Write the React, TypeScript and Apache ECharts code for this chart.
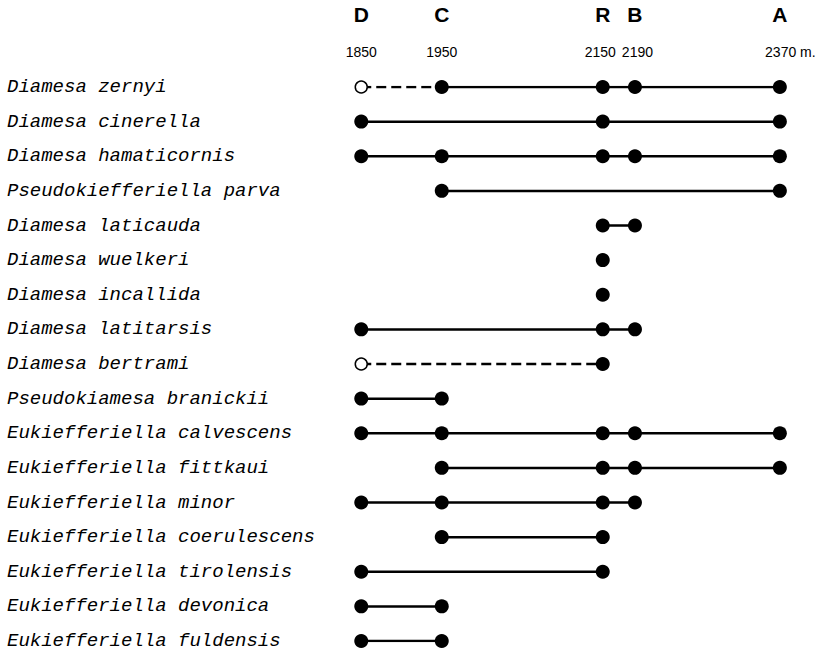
import React, { useEffect, useRef } from "react";
import * as echarts from "echarts";

const species = [
  "Diamesa zernyi",
  "Diamesa cinerella",
  "Diamesa hamaticornis",
  "Pseudokiefferiella parva",
  "Diamesa laticauda",
  "Diamesa wuelkeri",
  "Diamesa incallida",
  "Diamesa latitarsis",
  "Diamesa bertrami",
  "Pseudokiamesa branickii",
  "Eukiefferiella calvescens",
  "Eukiefferiella fittkaui",
  "Eukiefferiella minor",
  "Eukiefferiella coerulescens",
  "Eukiefferiella tirolensis",
  "Eukiefferiella devonica",
  "Eukiefferiella fuldensis",
];

const stationLetters = ["D", "C", "R", "B", "A"];
const stationAltitudes = [1850, 1950, 2150, 2190, 2370];

// filled (confirmed) records per species, altitudes in m
const filledRecords: number[][] = [
  [1950, 2150, 2190, 2370],
  [1850, 2150, 2370],
  [1850, 1950, 2150, 2190, 2370],
  [1950, 2370],
  [2150, 2190],
  [2150],
  [2150],
  [1850, 2150, 2190],
  [2150],
  [1850, 1950],
  [1850, 1950, 2150, 2190, 2370],
  [1950, 2150, 2190, 2370],
  [1850, 1950, 2150, 2190],
  [1950, 2150],
  [1850, 2150],
  [1850, 1950],
  [1850, 1950],
];

// open (uncertain) records per species, joined by a dashed line
const openRecords: number[][] = [
  [1850], [], [], [], [], [], [], [], [1850], [], [], [], [], [], [], [], [],
];

export default function App() {
  const ref = useRef<HTMLDivElement>(null);
  useEffect(() => {
    if (!ref.current) return;
    const chart = echarts.init(ref.current, null, { renderer: "svg" });

    const series: any[] = [];
    species.forEach((name, i) => {
      const open = openRecords[i];
      const filled = filledRecords[i];
      if (open.length) {
        series.push({
          type: "line",
          data: [...open.map((a) => [a, name]), [filled[0], name]],
          symbol: "none",
          lineStyle: { color: "#000", width: 2.6, type: [10, 5], opacity: 1 },
          z: 1,
        });
      }
      if (filled.length > 1) {
        series.push({
          type: "line",
          data: filled.map((a) => [a, name]),
          symbol: "none",
          lineStyle: { color: "#000", width: 2.5, opacity: 1 },
          z: 2,
        });
      }
    });
    series.push({
      type: "scatter",
      data: species.flatMap((name, i) => filledRecords[i].map((a) => [a, name])),
      symbol: "circle",
      symbolSize: 14,
      itemStyle: { color: "#000", opacity: 1 },
      z: 3,
    });
    series.push({
      type: "scatter",
      data: species.flatMap((name, i) => openRecords[i].map((a) => [a, name])),
      symbol: "circle",
      symbolSize: 12,
      itemStyle: { color: "#fff", borderColor: "#000", borderWidth: 1.5, opacity: 1 },
      z: 3,
    });

    const xBase = {
      type: "value",
      min: 1800,
      max: 2400,
      position: "top",
      axisLine: { show: false },
      axisTick: { show: false },
      splitLine: { show: false },
    };

    const last = stationAltitudes[stationAltitudes.length - 1];

    chart.setOption({
      animation: false,
      backgroundColor: "#fff",
      grid: { left: 321, right: 27, top: 87, bottom: 14 },
      xAxis: [
        {
          ...xBase,
          axisLabel: {
            customValues: stationAltitudes,
            margin: 73,
            verticalAlign: "middle",
            formatter: (v: number) => stationLetters[stationAltitudes.indexOf(v)] ?? "",
            fontFamily: "Liberation Sans",
            fontWeight: 900,
            fontSize: 21,
            color: "#000",
          },
        },
        {
          ...xBase,
          axisLabel: {
            customValues: stationAltitudes,
            margin: 35,
            verticalAlign: "middle",
            formatter: (v: number) => {
              if (v === last) return `{pad| }{a|${v}}{a| m.}`;
              if (v === 2150) return `{a|${v}}{p4| }`;
              if (v === 2190) return `{p4| }{a|${v}}`;
              return `{a|${v}}`;
            },
            rich: {
              pad: { width: 21 },
              p4: { width: 5 },
              a: {
                fontFamily: "Liberation Sans",
                fontSize: 14,
                color: "#000",
              },
            },
          },
        },
      ],
      yAxis: {
        type: "category",
        data: species,
        inverse: true,
        boundaryGap: false,
        axisLine: { show: false },
        axisTick: { show: false },
        splitLine: { show: false },
        axisLabel: {
          interval: 0,
          align: "left",
          margin: 314,
          fontFamily: "Liberation Mono",
          fontStyle: "italic",
          fontSize: 19,
          color: "#000",
        },
      },
      series,
    });
    return () => chart.dispose();
  }, []);
  return (
    <div
      ref={ref}
      style={{ position: "fixed", left: 0, top: 0, width: 831, height: 655 }}
    />
  );
}
